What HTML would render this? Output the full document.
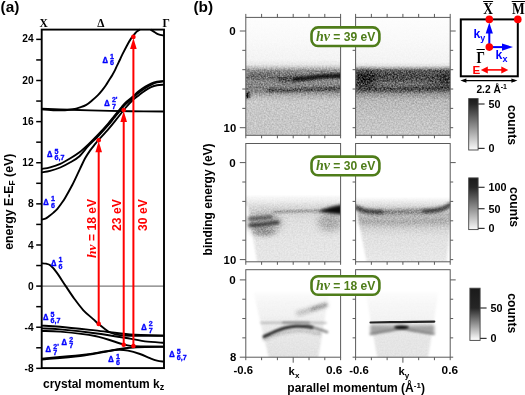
<!DOCTYPE html>
<html><head><meta charset="utf-8"><title>figure</title>
<style>html,body{margin:0;padding:0;background:#fff;overflow:hidden}svg{display:block;will-change:transform}</style>
</head><body>
<svg width="525" height="395" viewBox="0 0 525 395">
<rect width="525" height="395" fill="#fff"/>
<filter id="b05" filterUnits="userSpaceOnUse" x="230" y="0" width="240" height="380" color-interpolation-filters="sRGB"><feGaussianBlur stdDeviation="0.6"/></filter>
<filter id="b1" filterUnits="userSpaceOnUse" x="230" y="0" width="240" height="380" color-interpolation-filters="sRGB"><feGaussianBlur stdDeviation="1.0"/></filter>
<filter id="b15" filterUnits="userSpaceOnUse" x="230" y="0" width="240" height="380" color-interpolation-filters="sRGB"><feGaussianBlur stdDeviation="1.5"/></filter>
<filter id="b2" filterUnits="userSpaceOnUse" x="230" y="0" width="240" height="380" color-interpolation-filters="sRGB"><feGaussianBlur stdDeviation="2.2"/></filter>
<filter id="b3" filterUnits="userSpaceOnUse" x="230" y="0" width="240" height="380" color-interpolation-filters="sRGB"><feGaussianBlur stdDeviation="3.5"/></filter>
<filter id="b5" filterUnits="userSpaceOnUse" x="230" y="0" width="240" height="380" color-interpolation-filters="sRGB"><feGaussianBlur stdDeviation="5"/></filter>
<filter id="nz1" filterUnits="userSpaceOnUse" x="230" y="0" width="240" height="380" color-interpolation-filters="sRGB"><feTurbulence type="fractalNoise" baseFrequency="0.62" numOctaves="2" seed="3" result="t"/><feColorMatrix in="t" type="matrix" values="1 0 0 0 0  1 0 0 0 0  1 0 0 0 0  0 0 0 0 1" result="n"/><feColorMatrix in="SourceGraphic" type="matrix" values="-1 0 0 0 1  0 -1 0 0 1  0 0 -1 0 1  0 0 0 0 1" result="d"/><feComposite in="d" in2="n" operator="arithmetic" k1="1.1" k2="0.45" k3="0" k4="0" result="m"/><feColorMatrix in="m" type="matrix" values="-1 0 0 0 1  0 -1 0 0 1  0 0 -1 0 1  0 0 0 0 1"/></filter>
<filter id="nz2" filterUnits="userSpaceOnUse" x="230" y="0" width="240" height="380" color-interpolation-filters="sRGB"><feTurbulence type="fractalNoise" baseFrequency="0.62" numOctaves="2" seed="7" result="t"/><feColorMatrix in="t" type="matrix" values="1 0 0 0 0  1 0 0 0 0  1 0 0 0 0  0 0 0 0 1" result="n"/><feColorMatrix in="SourceGraphic" type="matrix" values="-1 0 0 0 1  0 -1 0 0 1  0 0 -1 0 1  0 0 0 0 1" result="d"/><feComposite in="d" in2="n" operator="arithmetic" k1="1.1" k2="0.45" k3="0" k4="0" result="m"/><feColorMatrix in="m" type="matrix" values="-1 0 0 0 1  0 -1 0 0 1  0 0 -1 0 1  0 0 0 0 1"/></filter>
<filter id="nz3" filterUnits="userSpaceOnUse" x="230" y="0" width="240" height="380" color-interpolation-filters="sRGB"><feTurbulence type="fractalNoise" baseFrequency="0.62" numOctaves="2" seed="11" result="t"/><feColorMatrix in="t" type="matrix" values="1 0 0 0 0  1 0 0 0 0  1 0 0 0 0  0 0 0 0 1" result="n"/><feColorMatrix in="SourceGraphic" type="matrix" values="-1 0 0 0 1  0 -1 0 0 1  0 0 -1 0 1  0 0 0 0 1" result="d"/><feComposite in="d" in2="n" operator="arithmetic" k1="1" k2="0.5" k3="0" k4="0" result="m"/><feColorMatrix in="m" type="matrix" values="-1 0 0 0 1  0 -1 0 0 1  0 0 -1 0 1  0 0 0 0 1"/></filter>
<filter id="nz4" filterUnits="userSpaceOnUse" x="230" y="0" width="240" height="380" color-interpolation-filters="sRGB"><feTurbulence type="fractalNoise" baseFrequency="0.62" numOctaves="2" seed="5" result="t"/><feColorMatrix in="t" type="matrix" values="1 0 0 0 0  1 0 0 0 0  1 0 0 0 0  0 0 0 0 1" result="n"/><feColorMatrix in="SourceGraphic" type="matrix" values="-1 0 0 0 1  0 -1 0 0 1  0 0 -1 0 1  0 0 0 0 1" result="d"/><feComposite in="d" in2="n" operator="arithmetic" k1="0.6" k2="0.7" k3="0" k4="0" result="m"/><feColorMatrix in="m" type="matrix" values="-1 0 0 0 1  0 -1 0 0 1  0 0 -1 0 1  0 0 0 0 1"/></filter>
<clipPath id="clp00"><rect x="245.8" y="17.4" width="94.8" height="117.9"/></clipPath>
<clipPath id="clp01"><rect x="355.6" y="17.4" width="94.6" height="117.9"/></clipPath>
<clipPath id="clp10"><rect x="245.8" y="143.5" width="94.8" height="118.3"/></clipPath>
<clipPath id="clp11"><rect x="355.6" y="143.5" width="94.6" height="118.3"/></clipPath>
<clipPath id="clp20"><rect x="245.8" y="269.7" width="94.8" height="87.5"/></clipPath>
<clipPath id="clp21"><rect x="355.6" y="269.7" width="94.6" height="87.5"/></clipPath>
<g clip-path="url(#clp00)"><g filter="url(#nz1)">
<linearGradient id="g00" x1="0" y1="17.4" x2="0" y2="135.3" gradientUnits="userSpaceOnUse"><stop offset="0" stop-color="#fdfdfd"/><stop offset="0.19" stop-color="#f9f9f9"/><stop offset="0.36" stop-color="#f3f3f3"/><stop offset="0.4" stop-color="#e6e6e6"/><stop offset="0.43" stop-color="#bcbcbc"/><stop offset="0.45" stop-color="#8e8e8e"/><stop offset="0.48" stop-color="#808080"/><stop offset="0.55" stop-color="#8e8e8e"/><stop offset="0.6" stop-color="#7e7e7e"/><stop offset="0.63" stop-color="#8a8a8a"/><stop offset="0.67" stop-color="#b4b4b4"/><stop offset="0.71" stop-color="#c8c8c8"/><stop offset="1" stop-color="#c6c6c6"/></linearGradient>
<rect x="245" y="17" width="96" height="119" fill="url(#g00)"/>
<path d="M250,76.5C252.5,76.62 259.67,76.9 265,77.2C270.33,77.5 276.5,77.97 282,78.3C287.5,78.63 295.33,79.05 298,79.2" fill="none" stroke="#222" stroke-width="5" stroke-opacity="0.35" stroke-linecap="round" filter="url(#b2)"/>
<path d="M280,79.5C282.33,79.47 289.83,79.45 294,79.3C298.17,79.15 301.5,78.92 305,78.6C308.5,78.28 311.17,77.78 315,77.4C318.83,77.02 323.5,76.57 328,76.3C332.5,76.03 339.67,75.88 342,75.8" fill="none" stroke="#000" stroke-width="4.5" stroke-opacity="0.4" stroke-linecap="round" filter="url(#b15)"/>
<path d="M268,90.4C270.83,90.4 279.67,90.48 285,90.4C290.33,90.32 294.17,90.1 300,89.9C305.83,89.7 313,89.38 320,89.2C327,89.02 338.33,88.87 342,88.8" fill="none" stroke="#000" stroke-width="2.8" stroke-opacity="0.5" stroke-linecap="round" filter="url(#b1)"/>
<ellipse cx="247.5" cy="95" rx="2.2" ry="3.5" fill="#111" filter="url(#b1)"/>
</g>
<path d="M296,79C297.5,78.9 301.83,78.7 305,78.4C308.17,78.1 311.17,77.57 315,77.2C318.83,76.83 323.5,76.47 328,76.2C332.5,75.93 339.67,75.7 342,75.6" fill="none" stroke="#000" stroke-width="3.8" stroke-opacity="0.75" stroke-linecap="round" filter="url(#b1)"/>
</g>
<g clip-path="url(#clp01)"><g filter="url(#nz2)">
<linearGradient id="g01" x1="0" y1="17.4" x2="0" y2="135.3" gradientUnits="userSpaceOnUse"><stop offset="0" stop-color="#fdfdfd"/><stop offset="0.19" stop-color="#f9f9f9"/><stop offset="0.38" stop-color="#f3f3f3"/><stop offset="0.41" stop-color="#e2e2e2"/><stop offset="0.43" stop-color="#a8a8a8"/><stop offset="0.45" stop-color="#5e5e5e"/><stop offset="0.49" stop-color="#484848"/><stop offset="0.53" stop-color="#505050"/><stop offset="0.56" stop-color="#5c5c5c"/><stop offset="0.6" stop-color="#4e4e4e"/><stop offset="0.62" stop-color="#6a6a6a"/><stop offset="0.65" stop-color="#969696"/><stop offset="0.7" stop-color="#b8b8b8"/><stop offset="0.83" stop-color="#c2c2c2"/><stop offset="1" stop-color="#c8c8c8"/></linearGradient>
<rect x="355" y="17" width="96" height="119" fill="url(#g01)"/>
<ellipse cx="366" cy="79" rx="11" ry="7" fill="#000" fill-opacity="0.55" filter="url(#b3)"/>
<ellipse cx="446" cy="79" rx="6" ry="7" fill="#000" fill-opacity="0.4" filter="url(#b3)"/>
<path d="M375,84.5C379.17,84.5 391.67,84.58 400,84.5C408.33,84.42 420.83,84.08 425,84" fill="none" stroke="#fff" stroke-width="3" stroke-opacity="0.25" stroke-linecap="round" filter="url(#b2)"/>
<path d="M360,89.5C366.67,89.58 385.83,90.08 400,90C414.17,89.92 437.5,89.17 445,89" fill="none" stroke="#000" stroke-width="2.5" stroke-opacity="0.3" stroke-linecap="round" filter="url(#b15)"/>
</g></g>
<g clip-path="url(#clp10)"><g filter="url(#nz3)">
<rect x="245" y="143" width="96" height="120" fill="#fff"/>
<linearGradient id="g10" x1="0" y1="143.5" x2="0" y2="261.8" gradientUnits="userSpaceOnUse"><stop offset="0" stop-color="#fefefe"/><stop offset="0.44" stop-color="#fafafa"/><stop offset="0.49" stop-color="#ececec"/><stop offset="0.54" stop-color="#d6d6d6"/><stop offset="0.59" stop-color="#d4d4d4"/><stop offset="0.65" stop-color="#dedede"/><stop offset="0.82" stop-color="#e4e4e4"/><stop offset="1" stop-color="#e6e6e6"/></linearGradient>
<path d="M244,196 L342,196 L342,264 L334,264 L257.5,264 L247.5,205 L244,205 Z" fill="url(#g10)" filter="url(#b1)"/>
<ellipse cx="264" cy="223" rx="18" ry="10" fill="#777" fill-opacity="0.5" filter="url(#b3)"/>
<ellipse cx="264" cy="232" rx="12" ry="3.5" fill="#444" fill-opacity="0.4" filter="url(#b2)"/>
<path d="M274,211.8C278.33,211.7 291.33,211.4 300,211.2C308.67,211 321.67,210.7 326,210.6" fill="none" stroke="#444" stroke-width="2.2" stroke-opacity="0.5" stroke-linecap="round" filter="url(#b1)"/>
<ellipse cx="330" cy="222" rx="12" ry="9" fill="#777" fill-opacity="0.5" filter="url(#b3)"/>
</g>
<path d="M249.5,218.8C250.58,218.75 253.75,218.65 256,218.5C258.25,218.35 260.5,218.15 263,217.9C265.5,217.65 269.67,217.15 271,217" fill="none" stroke="#000" stroke-width="3.4" stroke-opacity="0.55" stroke-linecap="round" filter="url(#b15)"/>
<path d="M250,225.4C251.33,225.32 255.33,225.13 258,224.9C260.67,224.67 262.67,224.45 266,224C269.33,223.55 276,222.5 278,222.2" fill="none" stroke="#000" stroke-width="3.6" stroke-opacity="0.7" stroke-linecap="round" filter="url(#b15)"/>
<path d="M318,211.3 Q330,206.5 342,204.6 L342,214.6 Q330,213.5 318,211.3 Z" fill="#000" fill-opacity="0.95" filter="url(#b15)"/>
</g>
<g clip-path="url(#clp11)"><g filter="url(#nz3)">
<rect x="355" y="143" width="96" height="120" fill="#fff"/>
<linearGradient id="g11" x1="0" y1="143.5" x2="0" y2="261.8" gradientUnits="userSpaceOnUse"><stop offset="0" stop-color="#fefefe"/><stop offset="0.46" stop-color="#fafafa"/><stop offset="0.5" stop-color="#e8e8e8"/><stop offset="0.55" stop-color="#cccccc"/><stop offset="0.6" stop-color="#bababa"/><stop offset="0.65" stop-color="#bcbcbc"/><stop offset="0.7" stop-color="#cccccc"/><stop offset="0.78" stop-color="#e0e0e0"/><stop offset="1" stop-color="#e8e8e8"/></linearGradient>
<path d="M354,198 L452,198 L452,206 L446.5,264 L367,264 L356.5,210 L354,210 Z" fill="url(#g11)" filter="url(#b1)"/>
<path d="M356,207C357,207.47 359.83,209.07 362,209.8C364.17,210.53 366,211.03 369,211.4C372,211.77 376.17,211.9 380,212C383.83,212.1 388.33,212.03 392,212C395.67,211.97 398.33,211.9 402,211.8C405.67,211.7 410.17,211.53 414,211.4C417.83,211.27 421.67,211.13 425,211C428.33,210.87 431.17,210.97 434,210.6C436.83,210.23 439.83,209.48 442,208.8C444.17,208.12 445.5,207.3 447,206.5C448.5,205.7 450.33,204.42 451,204" fill="none" stroke="#333" stroke-width="4.5" stroke-opacity="0.45" stroke-linecap="round" filter="url(#b15)"/>
<path d="M360,221.5C366.67,221.67 385.67,222.58 400,222.5C414.33,222.42 438.33,221.25 446,221" fill="none" stroke="#777" stroke-width="4.5" stroke-opacity="0.35" stroke-linecap="round" filter="url(#b2)"/>
</g>
<path d="M357,208C358.17,208.43 361.67,210 364,210.6C366.33,211.2 368,211.35 371,211.6C374,211.85 380.17,212.02 382,212.1" fill="none" stroke="#000" stroke-width="3.4" stroke-opacity="0.6" stroke-linecap="round" filter="url(#b15)"/>
<path d="M424,211.2C425.33,211.13 429.33,211.1 432,210.8C434.67,210.5 437.67,210 440,209.4C442.33,208.8 444.33,207.93 446,207.2C447.67,206.47 449.33,205.37 450,205" fill="none" stroke="#000" stroke-width="3.4" stroke-opacity="0.6" stroke-linecap="round" filter="url(#b15)"/>
</g>
<g clip-path="url(#clp20)"><g filter="url(#nz4)">
<rect x="245" y="269" width="96" height="90" fill="#fff"/>
<linearGradient id="g20" x1="0" y1="269.7" x2="0" y2="357.2" gradientUnits="userSpaceOnUse"><stop offset="0" stop-color="#ffffff"/><stop offset="0.25" stop-color="#fdfdfd"/><stop offset="0.37" stop-color="#f6f6f6"/><stop offset="0.52" stop-color="#f1f1f1"/><stop offset="0.6" stop-color="#ececec"/><stop offset="0.8" stop-color="#e6e6e6"/><stop offset="1" stop-color="#e2e2e2"/></linearGradient>
<path d="M253.5,292 L329.3,292 L318,359 L269,359 Z" fill="url(#g20)" filter="url(#b1)"/>
<path d="M298,313.3C299.33,312.97 303.33,312.05 306,311.3C308.67,310.55 311.67,309.53 314,308.8C316.33,308.07 318,307.55 320,306.9C322,306.25 325,305.23 326,304.9" fill="none" stroke="#666" stroke-width="3.6" stroke-opacity="0.5" stroke-linecap="round" filter="url(#b2)"/>
<path d="M312,309C313.33,308.6 317.67,307.3 320,306.6C322.33,305.9 325,305.1 326,304.8" fill="none" stroke="#444" stroke-width="2.6" stroke-opacity="0.45" stroke-linecap="round" filter="url(#b15)"/>
<path d="M264,339.5C265.83,338.75 270.67,336.33 275,335C279.33,333.67 285,332.17 290,331.5C295,330.83 300,330.58 305,331C310,331.42 317.5,333.5 320,334" fill="none" stroke="#777" stroke-width="2.5" stroke-opacity="0.45" stroke-linecap="round" filter="url(#b15)"/>
</g>
<path d="M261,322.8C265.83,322.77 279.17,322.6 290,322.6C300.83,322.6 320,322.77 326,322.8" fill="none" stroke="#888" stroke-width="1.8" stroke-opacity="0.55" stroke-linecap="round" filter="url(#b1)"/>
<path d="M283,322.7C285.33,322.67 292.67,322.5 297,322.5C301.33,322.5 307,322.67 309,322.7" fill="none" stroke="#333" stroke-width="1.8" stroke-opacity="0.5" stroke-linecap="round" filter="url(#b1)"/>
<path d="M264,336.6C265,336.13 267.67,334.85 270,333.8C272.33,332.75 275.33,331.3 278,330.3C280.67,329.3 283,328.47 286,327.8C289,327.13 292.57,326.5 296,326.3C299.43,326.1 303.93,326.42 306.6,326.6C309.27,326.78 311.1,327.27 312,327.4" fill="none" stroke="#000" stroke-width="3" stroke-opacity="0.85" stroke-linecap="round" filter="url(#b1)"/>
<path d="M306.6,326.6C307.83,326.8 311.43,327.18 314,327.8C316.57,328.42 319.83,329.6 322,330.3C324.17,331 326.17,331.72 327,332" fill="none" stroke="#555" stroke-width="2.6" stroke-opacity="0.65" stroke-linecap="round" filter="url(#b1)"/>
</g>
<g clip-path="url(#clp21)"><g filter="url(#nz4)">
<rect x="355" y="269" width="96" height="90" fill="#fff"/>
<linearGradient id="g21" x1="0" y1="269.7" x2="0" y2="357.2" gradientUnits="userSpaceOnUse"><stop offset="0" stop-color="#ffffff"/><stop offset="0.25" stop-color="#fdfdfd"/><stop offset="0.4" stop-color="#f7f7f7"/><stop offset="0.59" stop-color="#f2f2f2"/><stop offset="0.62" stop-color="#e8e8e8"/><stop offset="0.76" stop-color="#e6e6e6"/><stop offset="1" stop-color="#e4e4e4"/></linearGradient>
<path d="M365.5,292 L438.5,292 L427.8,359 L377.5,359 Z" fill="url(#g21)" filter="url(#b1)"/>
</g>
<path d="M370,325.2 L401.5,325.8 L434.5,325.2 L434.5,334.5 L401.5,329.3 L370,335 Z" fill="#777" fill-opacity="0.6" filter="url(#b15)"/>
<path d="M370.5,334C373.08,333.55 380.83,332.13 386,331.3C391.17,330.47 396.33,329 401.5,329C406.67,329 411.58,330.47 417,331.3C422.42,332.13 431.17,333.55 434,334" fill="none" stroke="#333" stroke-width="1.6" stroke-opacity="0.5" stroke-linecap="round" filter="url(#b1)"/>
<path d="M370.5,322.5C375.42,322.43 389.37,322.25 400,322.1C410.63,321.95 428.58,321.68 434.3,321.6" fill="none" stroke="#000" stroke-width="2.2" stroke-opacity="0.85" stroke-linecap="round" filter="url(#b05)"/>
<ellipse cx="401.5" cy="327.2" rx="7.5" ry="1.8" fill="#000" fill-opacity="0.95" filter="url(#b1)"/>
</g>
<rect x="245.8" y="17.4" width="94.8" height="117.9" fill="none" stroke="#5a5a5a" stroke-width="1"/>
<line x1="245.8" y1="17.4" x2="245.8" y2="13.9" stroke="#5a5a5a" stroke-width="1"/>
<line x1="245.8" y1="135.3" x2="245.8" y2="138.3" stroke="#5a5a5a" stroke-width="1"/>
<line x1="261.6" y1="17.4" x2="261.6" y2="13.9" stroke="#5a5a5a" stroke-width="1"/>
<line x1="261.6" y1="135.3" x2="261.6" y2="138.3" stroke="#5a5a5a" stroke-width="1"/>
<line x1="277.4" y1="17.4" x2="277.4" y2="13.9" stroke="#5a5a5a" stroke-width="1"/>
<line x1="277.4" y1="135.3" x2="277.4" y2="138.3" stroke="#5a5a5a" stroke-width="1"/>
<line x1="293.2" y1="17.4" x2="293.2" y2="13.9" stroke="#5a5a5a" stroke-width="1"/>
<line x1="293.2" y1="135.3" x2="293.2" y2="138.3" stroke="#5a5a5a" stroke-width="1"/>
<line x1="309" y1="17.4" x2="309" y2="13.9" stroke="#5a5a5a" stroke-width="1"/>
<line x1="309" y1="135.3" x2="309" y2="138.3" stroke="#5a5a5a" stroke-width="1"/>
<line x1="324.8" y1="17.4" x2="324.8" y2="13.9" stroke="#5a5a5a" stroke-width="1"/>
<line x1="324.8" y1="135.3" x2="324.8" y2="138.3" stroke="#5a5a5a" stroke-width="1"/>
<line x1="340.6" y1="17.4" x2="340.6" y2="13.9" stroke="#5a5a5a" stroke-width="1"/>
<line x1="340.6" y1="135.3" x2="340.6" y2="138.3" stroke="#5a5a5a" stroke-width="1"/>
<line x1="239.8" y1="31" x2="245.8" y2="31" stroke="#5a5a5a" stroke-width="1"/>
<line x1="242.3" y1="50.34" x2="245.8" y2="50.34" stroke="#5a5a5a" stroke-width="1"/>
<line x1="242.3" y1="69.68" x2="245.8" y2="69.68" stroke="#5a5a5a" stroke-width="1"/>
<line x1="242.3" y1="89.02" x2="245.8" y2="89.02" stroke="#5a5a5a" stroke-width="1"/>
<line x1="242.3" y1="108.36" x2="245.8" y2="108.36" stroke="#5a5a5a" stroke-width="1"/>
<line x1="239.8" y1="127.7" x2="245.8" y2="127.7" stroke="#5a5a5a" stroke-width="1"/>
<rect x="355.6" y="17.4" width="94.6" height="117.9" fill="none" stroke="#5a5a5a" stroke-width="1"/>
<line x1="355.6" y1="17.4" x2="355.6" y2="13.9" stroke="#5a5a5a" stroke-width="1"/>
<line x1="355.6" y1="135.3" x2="355.6" y2="138.3" stroke="#5a5a5a" stroke-width="1"/>
<line x1="371.37" y1="17.4" x2="371.37" y2="13.9" stroke="#5a5a5a" stroke-width="1"/>
<line x1="371.37" y1="135.3" x2="371.37" y2="138.3" stroke="#5a5a5a" stroke-width="1"/>
<line x1="387.13" y1="17.4" x2="387.13" y2="13.9" stroke="#5a5a5a" stroke-width="1"/>
<line x1="387.13" y1="135.3" x2="387.13" y2="138.3" stroke="#5a5a5a" stroke-width="1"/>
<line x1="402.9" y1="17.4" x2="402.9" y2="13.9" stroke="#5a5a5a" stroke-width="1"/>
<line x1="402.9" y1="135.3" x2="402.9" y2="138.3" stroke="#5a5a5a" stroke-width="1"/>
<line x1="418.67" y1="17.4" x2="418.67" y2="13.9" stroke="#5a5a5a" stroke-width="1"/>
<line x1="418.67" y1="135.3" x2="418.67" y2="138.3" stroke="#5a5a5a" stroke-width="1"/>
<line x1="434.43" y1="17.4" x2="434.43" y2="13.9" stroke="#5a5a5a" stroke-width="1"/>
<line x1="434.43" y1="135.3" x2="434.43" y2="138.3" stroke="#5a5a5a" stroke-width="1"/>
<line x1="450.2" y1="17.4" x2="450.2" y2="13.9" stroke="#5a5a5a" stroke-width="1"/>
<line x1="450.2" y1="135.3" x2="450.2" y2="138.3" stroke="#5a5a5a" stroke-width="1"/>
<line x1="352.6" y1="31" x2="355.6" y2="31" stroke="#5a5a5a" stroke-width="1"/>
<line x1="450.2" y1="31" x2="455.7" y2="31" stroke="#5a5a5a" stroke-width="1"/>
<line x1="352.6" y1="50.34" x2="355.6" y2="50.34" stroke="#5a5a5a" stroke-width="1"/>
<line x1="450.2" y1="50.34" x2="453.2" y2="50.34" stroke="#5a5a5a" stroke-width="1"/>
<line x1="352.6" y1="69.68" x2="355.6" y2="69.68" stroke="#5a5a5a" stroke-width="1"/>
<line x1="450.2" y1="69.68" x2="453.2" y2="69.68" stroke="#5a5a5a" stroke-width="1"/>
<line x1="352.6" y1="89.02" x2="355.6" y2="89.02" stroke="#5a5a5a" stroke-width="1"/>
<line x1="450.2" y1="89.02" x2="453.2" y2="89.02" stroke="#5a5a5a" stroke-width="1"/>
<line x1="352.6" y1="108.36" x2="355.6" y2="108.36" stroke="#5a5a5a" stroke-width="1"/>
<line x1="450.2" y1="108.36" x2="453.2" y2="108.36" stroke="#5a5a5a" stroke-width="1"/>
<line x1="352.6" y1="127.7" x2="355.6" y2="127.7" stroke="#5a5a5a" stroke-width="1"/>
<line x1="450.2" y1="127.7" x2="453.2" y2="127.7" stroke="#5a5a5a" stroke-width="1"/>
<text x="235.6" y="35" font-size="11.6" font-weight="bold" font-family='"Liberation Sans", sans-serif' fill="#000" text-anchor="end" >0</text>
<text x="236.2" y="131.7" font-size="11.3" font-weight="bold" font-family='"Liberation Sans", sans-serif' fill="#000" text-anchor="end" >10</text>
<rect x="245.8" y="143.5" width="94.8" height="118.3" fill="none" stroke="#5a5a5a" stroke-width="1"/>
<line x1="245.8" y1="261.8" x2="245.8" y2="264.8" stroke="#5a5a5a" stroke-width="1"/>
<line x1="261.6" y1="261.8" x2="261.6" y2="264.8" stroke="#5a5a5a" stroke-width="1"/>
<line x1="277.4" y1="261.8" x2="277.4" y2="264.8" stroke="#5a5a5a" stroke-width="1"/>
<line x1="293.2" y1="261.8" x2="293.2" y2="264.8" stroke="#5a5a5a" stroke-width="1"/>
<line x1="309" y1="261.8" x2="309" y2="264.8" stroke="#5a5a5a" stroke-width="1"/>
<line x1="324.8" y1="261.8" x2="324.8" y2="264.8" stroke="#5a5a5a" stroke-width="1"/>
<line x1="340.6" y1="261.8" x2="340.6" y2="264.8" stroke="#5a5a5a" stroke-width="1"/>
<line x1="239.8" y1="162.6" x2="245.8" y2="162.6" stroke="#5a5a5a" stroke-width="1"/>
<line x1="242.3" y1="182" x2="245.8" y2="182" stroke="#5a5a5a" stroke-width="1"/>
<line x1="242.3" y1="201.4" x2="245.8" y2="201.4" stroke="#5a5a5a" stroke-width="1"/>
<line x1="242.3" y1="220.8" x2="245.8" y2="220.8" stroke="#5a5a5a" stroke-width="1"/>
<line x1="242.3" y1="240.2" x2="245.8" y2="240.2" stroke="#5a5a5a" stroke-width="1"/>
<line x1="239.8" y1="259.6" x2="245.8" y2="259.6" stroke="#5a5a5a" stroke-width="1"/>
<rect x="355.6" y="143.5" width="94.6" height="118.3" fill="none" stroke="#5a5a5a" stroke-width="1"/>
<line x1="355.6" y1="261.8" x2="355.6" y2="264.8" stroke="#5a5a5a" stroke-width="1"/>
<line x1="371.37" y1="261.8" x2="371.37" y2="264.8" stroke="#5a5a5a" stroke-width="1"/>
<line x1="387.13" y1="261.8" x2="387.13" y2="264.8" stroke="#5a5a5a" stroke-width="1"/>
<line x1="402.9" y1="261.8" x2="402.9" y2="264.8" stroke="#5a5a5a" stroke-width="1"/>
<line x1="418.67" y1="261.8" x2="418.67" y2="264.8" stroke="#5a5a5a" stroke-width="1"/>
<line x1="434.43" y1="261.8" x2="434.43" y2="264.8" stroke="#5a5a5a" stroke-width="1"/>
<line x1="450.2" y1="261.8" x2="450.2" y2="264.8" stroke="#5a5a5a" stroke-width="1"/>
<line x1="352.6" y1="162.6" x2="355.6" y2="162.6" stroke="#5a5a5a" stroke-width="1"/>
<line x1="450.2" y1="162.6" x2="455.7" y2="162.6" stroke="#5a5a5a" stroke-width="1"/>
<line x1="352.6" y1="182" x2="355.6" y2="182" stroke="#5a5a5a" stroke-width="1"/>
<line x1="450.2" y1="182" x2="453.2" y2="182" stroke="#5a5a5a" stroke-width="1"/>
<line x1="352.6" y1="201.4" x2="355.6" y2="201.4" stroke="#5a5a5a" stroke-width="1"/>
<line x1="450.2" y1="201.4" x2="453.2" y2="201.4" stroke="#5a5a5a" stroke-width="1"/>
<line x1="352.6" y1="220.8" x2="355.6" y2="220.8" stroke="#5a5a5a" stroke-width="1"/>
<line x1="450.2" y1="220.8" x2="453.2" y2="220.8" stroke="#5a5a5a" stroke-width="1"/>
<line x1="352.6" y1="240.2" x2="355.6" y2="240.2" stroke="#5a5a5a" stroke-width="1"/>
<line x1="450.2" y1="240.2" x2="453.2" y2="240.2" stroke="#5a5a5a" stroke-width="1"/>
<line x1="352.6" y1="259.6" x2="355.6" y2="259.6" stroke="#5a5a5a" stroke-width="1"/>
<line x1="450.2" y1="259.6" x2="453.2" y2="259.6" stroke="#5a5a5a" stroke-width="1"/>
<text x="235.6" y="166.6" font-size="11.6" font-weight="bold" font-family='"Liberation Sans", sans-serif' fill="#000" text-anchor="end" >0</text>
<text x="236.2" y="263.6" font-size="11.3" font-weight="bold" font-family='"Liberation Sans", sans-serif' fill="#000" text-anchor="end" >10</text>
<rect x="245.8" y="269.7" width="94.8" height="87.5" fill="none" stroke="#5a5a5a" stroke-width="1"/>
<line x1="245.8" y1="357.2" x2="245.8" y2="360.2" stroke="#5a5a5a" stroke-width="1"/>
<line x1="261.6" y1="357.2" x2="261.6" y2="360.2" stroke="#5a5a5a" stroke-width="1"/>
<line x1="277.4" y1="357.2" x2="277.4" y2="360.2" stroke="#5a5a5a" stroke-width="1"/>
<line x1="293.2" y1="357.2" x2="293.2" y2="362.7" stroke="#5a5a5a" stroke-width="1"/>
<line x1="309" y1="357.2" x2="309" y2="360.2" stroke="#5a5a5a" stroke-width="1"/>
<line x1="324.8" y1="357.2" x2="324.8" y2="360.2" stroke="#5a5a5a" stroke-width="1"/>
<line x1="340.6" y1="357.2" x2="340.6" y2="360.2" stroke="#5a5a5a" stroke-width="1"/>
<line x1="239.8" y1="279.9" x2="245.8" y2="279.9" stroke="#5a5a5a" stroke-width="1"/>
<line x1="242.3" y1="299.22" x2="245.8" y2="299.22" stroke="#5a5a5a" stroke-width="1"/>
<line x1="242.3" y1="318.54" x2="245.8" y2="318.54" stroke="#5a5a5a" stroke-width="1"/>
<line x1="242.3" y1="337.86" x2="245.8" y2="337.86" stroke="#5a5a5a" stroke-width="1"/>
<line x1="239.8" y1="357.18" x2="245.8" y2="357.18" stroke="#5a5a5a" stroke-width="1"/>
<rect x="355.6" y="269.7" width="94.6" height="87.5" fill="none" stroke="#5a5a5a" stroke-width="1"/>
<line x1="355.6" y1="357.2" x2="355.6" y2="360.2" stroke="#5a5a5a" stroke-width="1"/>
<line x1="371.37" y1="357.2" x2="371.37" y2="360.2" stroke="#5a5a5a" stroke-width="1"/>
<line x1="387.13" y1="357.2" x2="387.13" y2="360.2" stroke="#5a5a5a" stroke-width="1"/>
<line x1="402.9" y1="357.2" x2="402.9" y2="362.7" stroke="#5a5a5a" stroke-width="1"/>
<line x1="418.67" y1="357.2" x2="418.67" y2="360.2" stroke="#5a5a5a" stroke-width="1"/>
<line x1="434.43" y1="357.2" x2="434.43" y2="360.2" stroke="#5a5a5a" stroke-width="1"/>
<line x1="450.2" y1="357.2" x2="450.2" y2="360.2" stroke="#5a5a5a" stroke-width="1"/>
<line x1="352.6" y1="279.9" x2="355.6" y2="279.9" stroke="#5a5a5a" stroke-width="1"/>
<line x1="450.2" y1="279.9" x2="455.7" y2="279.9" stroke="#5a5a5a" stroke-width="1"/>
<line x1="352.6" y1="299.22" x2="355.6" y2="299.22" stroke="#5a5a5a" stroke-width="1"/>
<line x1="450.2" y1="299.22" x2="453.2" y2="299.22" stroke="#5a5a5a" stroke-width="1"/>
<line x1="352.6" y1="318.54" x2="355.6" y2="318.54" stroke="#5a5a5a" stroke-width="1"/>
<line x1="450.2" y1="318.54" x2="453.2" y2="318.54" stroke="#5a5a5a" stroke-width="1"/>
<line x1="352.6" y1="337.86" x2="355.6" y2="337.86" stroke="#5a5a5a" stroke-width="1"/>
<line x1="450.2" y1="337.86" x2="453.2" y2="337.86" stroke="#5a5a5a" stroke-width="1"/>
<line x1="352.6" y1="357.18" x2="355.6" y2="357.18" stroke="#5a5a5a" stroke-width="1"/>
<line x1="450.2" y1="357.18" x2="453.2" y2="357.18" stroke="#5a5a5a" stroke-width="1"/>
<text x="235.6" y="283.9" font-size="11.6" font-weight="bold" font-family='"Liberation Sans", sans-serif' fill="#000" text-anchor="end" >0</text>
<text x="236.2" y="361.18" font-size="11.3" font-weight="bold" font-family='"Liberation Sans", sans-serif' fill="#000" text-anchor="end" >8</text>
<text x="243.2" y="374.4" font-size="11.3" font-weight="bold" font-family='"Liberation Sans", sans-serif' fill="#000" text-anchor="middle" >-0.6</text>
<text x="334.1" y="374.4" font-size="11.8" font-weight="bold" font-family='"Liberation Sans", sans-serif' fill="#000" text-anchor="middle" >0.6</text>
<text x="359" y="374.4" font-size="11.3" font-weight="bold" font-family='"Liberation Sans", sans-serif' fill="#000" text-anchor="middle" >-0.6</text>
<text x="449.8" y="374.4" font-size="11.8" font-weight="bold" font-family='"Liberation Sans", sans-serif' fill="#000" text-anchor="middle" >0.6</text>
<text x="288.6" y="374.8" font-size="11.3" font-weight="bold" font-family='"Liberation Sans", sans-serif'>k<tspan font-size="8" dy="2.8">x</tspan></text>
<text x="398.4" y="374.8" font-size="11.3" font-weight="bold" font-family='"Liberation Sans", sans-serif'>k<tspan font-size="8" dy="2.8">y</tspan></text>
<text x="287.3" y="392.3" font-size="12.05" font-weight="bold" font-family='"Liberation Sans", sans-serif'>parallel momentum (&#197;<tspan font-size="8" dy="-4.5">-1</tspan><tspan dy="4.5">)</tspan></text>
<text transform="translate(212,199.4) rotate(-90)" text-anchor="middle" font-size="12" font-weight="bold" font-family='"Liberation Sans", sans-serif'>binding energy (eV)</text>
<text x="193.4" y="12.3" font-size="15.4" font-weight="bold" font-family='"Liberation Sans", sans-serif' fill="#000" text-anchor="start" >(b)</text>
<rect x="311.5" y="27.4" width="67.9" height="18.6" rx="6.5" ry="6.5" fill="#fff" stroke="#4f7d1a" stroke-width="2.6"/>
<text x="316" y="41" font-size="12.1" font-weight="bold" font-family='"Liberation Sans", sans-serif' fill="#4f7d1a"><tspan font-family='"Liberation Serif", serif' font-style="italic" font-size="14">h&#957;</tspan> = 39 eV</text>
<rect x="311.5" y="156.6" width="67.9" height="18.6" rx="6.5" ry="6.5" fill="#fff" stroke="#4f7d1a" stroke-width="2.6"/>
<text x="316" y="170.2" font-size="12.1" font-weight="bold" font-family='"Liberation Sans", sans-serif' fill="#4f7d1a"><tspan font-family='"Liberation Serif", serif' font-style="italic" font-size="14">h&#957;</tspan> = 30 eV</text>
<rect x="311.5" y="276.2" width="67.9" height="18.6" rx="6.5" ry="6.5" fill="#fff" stroke="#4f7d1a" stroke-width="2.6"/>
<text x="316" y="289.8" font-size="12.1" font-weight="bold" font-family='"Liberation Sans", sans-serif' fill="#4f7d1a"><tspan font-family='"Liberation Serif", serif' font-style="italic" font-size="14">h&#957;</tspan> = 18 eV</text>
<linearGradient id="cb0" x1="0" y1="0" x2="0" y2="1"><stop offset="0" stop-color="#1a1a1a"/><stop offset="0.11" stop-color="#262626"/><stop offset="0.97" stop-color="#f4f4f4"/><stop offset="1" stop-color="#f8f8f8"/></linearGradient>
<rect x="468.7" y="98.6" width="9.4" height="51.4" fill="url(#cb0)" stroke="#444" stroke-width="0.9"/>
<line x1="478.1" y1="104" x2="484.6" y2="104" stroke="#333" stroke-width="1.2"/>
<text x="488.6" y="107.8" font-size="10.8" font-weight="bold" font-family='"Liberation Sans", sans-serif' fill="#000" text-anchor="start" >50</text>
<line x1="478.1" y1="148.4" x2="484.6" y2="148.4" stroke="#333" stroke-width="1.2"/>
<text x="488.6" y="152.2" font-size="10.8" font-weight="bold" font-family='"Liberation Sans", sans-serif' fill="#000" text-anchor="start" >0</text>
<text transform="translate(507.9,125) rotate(90)" text-anchor="middle" font-size="12.2" font-weight="bold" font-family='"Liberation Sans", sans-serif'>counts</text>
<linearGradient id="cb1" x1="0" y1="0" x2="0" y2="1"><stop offset="0" stop-color="#1a1a1a"/><stop offset="0.18" stop-color="#262626"/><stop offset="0.98" stop-color="#f4f4f4"/><stop offset="1" stop-color="#f8f8f8"/></linearGradient>
<rect x="468.7" y="177.9" width="9.4" height="51.7" fill="url(#cb1)" stroke="#444" stroke-width="0.9"/>
<line x1="478.1" y1="187.3" x2="484.6" y2="187.3" stroke="#333" stroke-width="1.2"/>
<text x="488.6" y="191.1" font-size="10.8" font-weight="bold" font-family='"Liberation Sans", sans-serif' fill="#000" text-anchor="start" >100</text>
<line x1="478.1" y1="208.7" x2="484.6" y2="208.7" stroke="#333" stroke-width="1.2"/>
<text x="488.6" y="212.5" font-size="10.8" font-weight="bold" font-family='"Liberation Sans", sans-serif' fill="#000" text-anchor="start" >50</text>
<line x1="478.1" y1="228.4" x2="484.6" y2="228.4" stroke="#333" stroke-width="1.2"/>
<text x="488.6" y="232.2" font-size="10.8" font-weight="bold" font-family='"Liberation Sans", sans-serif' fill="#000" text-anchor="start" >0</text>
<text transform="translate(509.5,207) rotate(90)" text-anchor="middle" font-size="12.2" font-weight="bold" font-family='"Liberation Sans", sans-serif'>counts</text>
<linearGradient id="cb2" x1="0" y1="0" x2="0" y2="1"><stop offset="0" stop-color="#1a1a1a"/><stop offset="0.38" stop-color="#262626"/><stop offset="0.96" stop-color="#f4f4f4"/><stop offset="1" stop-color="#f8f8f8"/></linearGradient>
<rect x="469.9" y="288.2" width="10.2" height="52.2" fill="url(#cb2)" stroke="#444" stroke-width="0.9"/>
<line x1="480.1" y1="308" x2="486.6" y2="308" stroke="#333" stroke-width="1.2"/>
<text x="490.6" y="311.8" font-size="10.8" font-weight="bold" font-family='"Liberation Sans", sans-serif' fill="#000" text-anchor="start" >50</text>
<line x1="480.1" y1="338.4" x2="486.6" y2="338.4" stroke="#333" stroke-width="1.2"/>
<text x="490.6" y="342.2" font-size="10.8" font-weight="bold" font-family='"Liberation Sans", sans-serif' fill="#000" text-anchor="start" >0</text>
<text transform="translate(507.9,313.3) rotate(90)" text-anchor="middle" font-size="12.2" font-weight="bold" font-family='"Liberation Sans", sans-serif'>counts</text>
<rect x="460.8" y="19.4" width="57" height="56.9" fill="none" stroke="#000" stroke-width="2"/>
<line x1="489.3" y1="47.1" x2="489.3" y2="32" stroke="#0000ff" stroke-width="2"/>
<path d="M489.3,22.6 L485.7,33.6 L492.9,33.6 Z" fill="#0000ff"/>
<line x1="489.3" y1="47.1" x2="503" y2="47.1" stroke="#0000ff" stroke-width="2"/>
<path d="M513,47.1 L502,43.4 L502,50.8 Z" fill="#0000ff"/>
<circle cx="489.3" cy="19.4" r="3.8" fill="#ff0000"/>
<circle cx="517.8" cy="19.4" r="3.8" fill="#ff0000"/>
<circle cx="489.3" cy="47.1" r="3.8" fill="#ff0000"/>
<line x1="485" y1="69.9" x2="504" y2="69.9" stroke="#ff0000" stroke-width="1.6"/>
<path d="M480.8,69.9 L487.8,66.4 L487.8,73.4 Z M508.3,69.9 L501.3,66.4 L501.3,73.4 Z" fill="#ff0000"/>
<text x="472.4" y="74" font-size="11.6" font-weight="bold" font-family='"Liberation Sans", sans-serif' fill="#ff0000" text-anchor="start" >E</text>
<text x="473.4" y="37.6" font-size="12.3" font-weight="bold" font-family='"Liberation Sans", sans-serif' fill="#0000ff">k<tspan font-size="9" dy="3">y</tspan></text>
<text x="495.6" y="59.2" font-size="12.3" font-weight="bold" font-family='"Liberation Sans", sans-serif' fill="#0000ff">k<tspan font-size="9" dy="3">x</tspan></text>
<g transform="translate(488.2,13.6) scale(1,1.2)"><text x="0" y="0" font-size="13.5" font-weight="bold" font-family='"Liberation Serif", serif' fill="#000" text-anchor="middle" >X</text></g>
<line x1="483.1" y1="1.5" x2="493.1" y2="1.5" stroke="#000" stroke-width="1"/>
<g transform="translate(518.4,13.6) scale(1,1.2)"><text x="0" y="0" font-size="13.5" font-weight="bold" font-family='"Liberation Serif", serif' fill="#000" text-anchor="middle" >M</text></g>
<line x1="511.7" y1="1.5" x2="525" y2="1.5" stroke="#000" stroke-width="1"/>
<g transform="translate(480.6,62.5) scale(1,1.22)"><text x="0" y="0" font-size="13.2" font-weight="bold" font-family='"Liberation Serif", serif' fill="#000" text-anchor="middle" >&#915;</text></g>
<line x1="476.5" y1="49.5" x2="484.8" y2="49.5" stroke="#000" stroke-width="1"/>
<line x1="463" y1="80.6" x2="515" y2="80.6" stroke="#000" stroke-width="1.1"/>
<path d="M460.4,80.6 L466.4,78.4 L466.4,82.8 Z M517.4,80.6 L511.4,78.4 L511.4,82.8 Z" fill="#000"/>
<text x="476.4" y="92.6" font-size="10.2" font-weight="bold" font-family='"Liberation Sans", sans-serif'>2.2 &#197;<tspan font-size="7" dy="-4">-1</tspan></text>
<line x1="41.7" y1="286.1" x2="164" y2="286.1" stroke="#7a7a7a" stroke-width="1.3"/>
<line x1="36.2" y1="368.34" x2="41.7" y2="368.34" stroke="#000" stroke-width="1.5"/>
<text x="33.6" y="371.94" font-size="10.2" font-weight="bold" font-family='"Liberation Sans", sans-serif' fill="#000" text-anchor="end" >-8</text>
<line x1="36.2" y1="347.78" x2="41.7" y2="347.78" stroke="#000" stroke-width="1.5"/>
<line x1="36.2" y1="327.22" x2="41.7" y2="327.22" stroke="#000" stroke-width="1.5"/>
<text x="33.6" y="330.82" font-size="10.2" font-weight="bold" font-family='"Liberation Sans", sans-serif' fill="#000" text-anchor="end" >-4</text>
<line x1="36.2" y1="306.66" x2="41.7" y2="306.66" stroke="#000" stroke-width="1.5"/>
<line x1="36.2" y1="286.1" x2="41.7" y2="286.1" stroke="#000" stroke-width="1.5"/>
<text x="33.6" y="289.7" font-size="10.2" font-weight="bold" font-family='"Liberation Sans", sans-serif' fill="#000" text-anchor="end" >0</text>
<line x1="36.2" y1="265.54" x2="41.7" y2="265.54" stroke="#000" stroke-width="1.5"/>
<line x1="36.2" y1="244.98" x2="41.7" y2="244.98" stroke="#000" stroke-width="1.5"/>
<text x="33.6" y="248.58" font-size="10.2" font-weight="bold" font-family='"Liberation Sans", sans-serif' fill="#000" text-anchor="end" >4</text>
<line x1="36.2" y1="224.42" x2="41.7" y2="224.42" stroke="#000" stroke-width="1.5"/>
<line x1="36.2" y1="203.86" x2="41.7" y2="203.86" stroke="#000" stroke-width="1.5"/>
<text x="33.6" y="207.46" font-size="10.2" font-weight="bold" font-family='"Liberation Sans", sans-serif' fill="#000" text-anchor="end" >8</text>
<line x1="36.2" y1="183.3" x2="41.7" y2="183.3" stroke="#000" stroke-width="1.5"/>
<line x1="36.2" y1="162.74" x2="41.7" y2="162.74" stroke="#000" stroke-width="1.5"/>
<text x="33.6" y="166.34" font-size="10.2" font-weight="bold" font-family='"Liberation Sans", sans-serif' fill="#000" text-anchor="end" >12</text>
<line x1="36.2" y1="142.18" x2="41.7" y2="142.18" stroke="#000" stroke-width="1.5"/>
<line x1="36.2" y1="121.62" x2="41.7" y2="121.62" stroke="#000" stroke-width="1.5"/>
<text x="33.6" y="125.22" font-size="10.2" font-weight="bold" font-family='"Liberation Sans", sans-serif' fill="#000" text-anchor="end" >16</text>
<line x1="36.2" y1="101.06" x2="41.7" y2="101.06" stroke="#000" stroke-width="1.5"/>
<line x1="36.2" y1="80.5" x2="41.7" y2="80.5" stroke="#000" stroke-width="1.5"/>
<text x="33.6" y="84.1" font-size="10.2" font-weight="bold" font-family='"Liberation Sans", sans-serif' fill="#000" text-anchor="end" >20</text>
<line x1="36.2" y1="59.94" x2="41.7" y2="59.94" stroke="#000" stroke-width="1.5"/>
<line x1="36.2" y1="39.38" x2="41.7" y2="39.38" stroke="#000" stroke-width="1.5"/>
<text x="33.6" y="41.78" font-size="10.2" font-weight="bold" font-family='"Liberation Sans", sans-serif' fill="#000" text-anchor="end" >24</text>
<path d="M150.6,29.6C151.28,30.03 153.38,31.4 154.7,32.2C156.02,33 156.95,33.83 158.5,34.4C160.05,34.97 163.08,35.4 164,35.6" fill="none" stroke="#000" stroke-width="1.9"/>
<path d="M41.7,109.3C43.92,109.47 51.12,110.15 55,110.3C58.88,110.45 62,110.37 65,110.2C68,110.03 70.5,109.77 73,109.3C75.5,108.83 77.78,108.13 80,107.4C82.22,106.67 84.3,106.05 86.3,104.9C88.3,103.75 90.1,102.08 92,100.5C93.9,98.92 96.02,97.08 97.7,95.4C99.38,93.72 100.73,92.08 102.1,90.4C103.47,88.72 104.75,86.98 105.9,85.3C107.05,83.62 107.95,81.98 109,80.3C110.05,78.62 111.2,76.9 112.2,75.2C113.2,73.5 114.15,71.78 115,70.1C115.85,68.42 116.5,66.78 117.3,65.1C118.1,63.42 118.93,61.82 119.8,60C120.67,58.18 121.23,56.75 122.5,54.2C123.77,51.65 125.98,47.3 127.4,44.7C128.82,42.1 129.82,40.37 131,38.6C132.18,36.83 133.55,35.27 134.5,34.1C135.45,32.93 135.82,32.35 136.7,31.6C137.58,30.85 139.28,29.93 139.8,29.6" fill="none" stroke="#000" stroke-width="1.9"/>
<path d="M41.7,108.6C46.42,108.78 60.28,109.37 70,109.7C79.72,110.03 90,110.35 100,110.6C110,110.85 119.33,111.05 130,111.2C140.67,111.35 158.33,111.45 164,111.5" fill="none" stroke="#000" stroke-width="1.9"/>
<path d="M41.7,168.9C43.1,168.63 47,168.15 50.1,167.3C53.2,166.45 56.92,165.32 60.3,163.8C63.68,162.28 67.2,160.13 70.4,158.2C73.6,156.27 76.55,154.47 79.5,152.2C82.45,149.93 84.97,147.57 88.1,144.6C91.23,141.63 94.92,137.95 98.3,134.4C101.68,130.85 105.78,126.3 108.4,123.3C111.02,120.3 111.78,119.12 114,116.4C116.22,113.68 119.7,109.35 121.7,107C123.7,104.65 124.23,103.97 126,102.3C127.77,100.63 130.18,98.83 132.3,97C134.42,95.17 136.58,93 138.7,91.3C140.82,89.6 142.95,88.08 145,86.8C147.05,85.52 149,84.45 151,83.6C153,82.75 154.83,82.13 157,81.7C159.17,81.27 162.83,81.12 164,81" fill="none" stroke="#000" stroke-width="1.9"/>
<path d="M41.7,172.4C43.1,172.15 47,171.72 50.1,170.9C53.2,170.08 56.92,168.93 60.3,167.5C63.68,166.07 67.2,164.18 70.4,162.3C73.6,160.42 76.55,158.88 79.5,156.2C82.45,153.52 84.97,149.57 88.1,146.2C91.23,142.83 94.92,139.55 98.3,136C101.68,132.45 105.78,127.9 108.4,124.9C111.02,121.9 111.78,120.72 114,118C116.22,115.28 119.7,110.97 121.7,108.6C123.7,106.23 124.23,105.5 126,103.8C127.77,102.1 130.18,100.25 132.3,98.4C134.42,96.55 136.58,94.4 138.7,92.7C140.82,91 142.95,89.52 145,88.2C147.05,86.88 149,85.77 151,84.8C153,83.83 154.83,82.97 157,82.4C159.17,81.83 162.83,81.57 164,81.4" fill="none" stroke="#000" stroke-width="1.9"/>
<path d="M41.7,219.6C42.42,219.4 44.68,219.03 46,218.4C47.32,217.77 48.35,216.77 49.6,215.8C50.85,214.83 52.23,213.72 53.5,212.6C54.77,211.48 55.95,210.53 57.2,209.1C58.45,207.67 59.73,205.78 61,204C62.27,202.22 62.9,201.6 64.8,198.4C66.7,195.2 69.87,189.73 72.4,184.8C74.93,179.87 77.88,173.22 80,168.8C82.12,164.38 83.43,161.33 85.1,158.3C86.77,155.27 88.35,152.95 90,150.6C91.65,148.25 93.62,145.93 95,144.2C96.38,142.47 96.07,142.72 98.3,140.2C100.53,137.68 105.37,132.6 108.4,129.1C111.43,125.6 113.67,122.72 116.5,119.2C119.33,115.68 122.77,111.12 125.4,108C128.03,104.88 130.08,102.6 132.3,100.5C134.52,98.4 136.58,97.05 138.7,95.4C140.82,93.75 142.95,91.97 145,90.6C147.05,89.23 149,88.08 151,87.2C153,86.32 154.83,85.73 157,85.3C159.17,84.87 162.83,84.72 164,84.6" fill="none" stroke="#000" stroke-width="1.9"/>
<path d="M41.7,263.3C42.42,263.37 44.52,263.32 46,263.7C47.48,264.08 48.83,264.15 50.6,265.6C52.37,267.05 54.13,269.07 56.6,272.4C59.07,275.73 62.45,281.22 65.4,285.6C68.35,289.98 71.3,294.58 74.3,298.7C77.3,302.82 80.25,306.9 83.4,310.3C86.55,313.7 90.67,316.8 93.2,319.1C95.73,321.4 96.6,322.42 98.6,324.1C100.6,325.78 103.25,327.8 105.2,329.2C107.15,330.6 108.45,331.6 110.3,332.5C112.15,333.4 113.85,334.1 116.3,334.6C118.75,335.1 121.05,335.3 125,335.5C128.95,335.7 133.5,335.75 140,335.8C146.5,335.85 160,335.8 164,335.8" fill="none" stroke="#000" stroke-width="1.9"/>
<path d="M41.7,325.6C44.75,325.78 51.12,325.9 60,326.7C68.88,327.5 83.33,329.12 95,330.4C106.67,331.68 118.5,333.53 130,334.4C141.5,335.27 158.33,335.4 164,335.6" fill="none" stroke="#000" stroke-width="1.9"/>
<path d="M41.7,328.4C44.75,328.57 51.12,328.6 60,329.4C68.88,330.2 83.33,331.67 95,333.2C106.67,334.73 121.67,337.23 130,338.6C138.33,339.97 139.33,340.7 145,341.4C150.67,342.1 160.83,342.57 164,342.8" fill="none" stroke="#000" stroke-width="1.9"/>
<path d="M41.7,331C44.75,331.1 51.12,330.77 60,331.6C68.88,332.43 84.43,333.87 95,336C105.57,338.13 117.1,342.73 123.4,344.4C129.7,346.07 129.2,345.65 132.8,346C136.4,346.35 139.8,346.4 145,346.5C150.2,346.6 160.83,346.58 164,346.6" fill="none" stroke="#000" stroke-width="1.9"/>
<path d="M41.7,358.6C48.08,358.05 69.45,356.48 80,355.3C90.55,354.12 98.67,352.5 105,351.5C111.33,350.5 113.83,349.92 118,349.3C122.17,348.68 125.5,348.18 130,347.8C134.5,347.42 139.33,347.17 145,347C150.67,346.83 160.83,346.83 164,346.8" fill="none" stroke="#000" stroke-width="1.9"/>
<path d="M41.7,359.6C48.08,359 69.45,357.3 80,356C90.55,354.7 98.67,352.83 105,351.8C111.33,350.77 114.17,350 118,349.8C121.83,349.6 124.33,349.9 128,350.6C131.67,351.3 136.33,352.73 140,354C143.67,355.27 147.17,357.1 150,358.2C152.83,359.3 154.67,360.03 157,360.6C159.33,361.17 162.83,361.43 164,361.6" fill="none" stroke="#000" stroke-width="1.9"/>
<line x1="98.7" y1="323.9" x2="98.7" y2="150.3" stroke="#ff0000" stroke-width="2"/>
<path d="M98.7,141.3 L95.4,152.3 L102,152.3 Z" fill="#ff0000"/>
<circle cx="98.7" cy="323.9" r="2.3" fill="#ff0000"/>
<circle cx="98.7" cy="140.3" r="2.3" fill="#ff0000"/>
<line x1="123.7" y1="344.7" x2="123.7" y2="120" stroke="#ff0000" stroke-width="2"/>
<path d="M123.7,111 L120.4,122 L127,122 Z" fill="#ff0000"/>
<circle cx="123.7" cy="344.7" r="2.3" fill="#ff0000"/>
<circle cx="123.7" cy="110" r="2.3" fill="#ff0000"/>
<line x1="133.4" y1="346" x2="133.4" y2="46.9" stroke="#ff0000" stroke-width="2"/>
<path d="M133.4,37.9 L130.1,48.9 L136.7,48.9 Z" fill="#ff0000"/>
<circle cx="133.4" cy="346" r="2.3" fill="#ff0000"/>
<circle cx="133.4" cy="36.9" r="2.3" fill="#ff0000"/>
<rect x="41.7" y="29.6" width="122.3" height="338.5" fill="none" stroke="#000" stroke-width="1.9"/>
<text transform="translate(96.2,258) rotate(-90)" font-size="12.2" font-weight="bold" font-family='"Liberation Sans", sans-serif' fill="#ff0000"><tspan font-family='"Liberation Serif", serif' font-style="italic" font-size="13.5">h&#957;</tspan> = 18 eV</text>
<text transform="translate(120.5,231) rotate(-90)" font-size="12.2" font-weight="bold" font-family='"Liberation Sans", sans-serif' fill="#ff0000">23 eV</text>
<text transform="translate(146.9,231) rotate(-90)" font-size="12.2" font-weight="bold" font-family='"Liberation Sans", sans-serif' fill="#ff0000">30 eV</text>
<g transform="translate(102.4,62.5) scale(0.9,1)"><text x="0" y="0" font-size="8.4" font-weight="bold" font-family='"Liberation Sans", sans-serif' fill="#0000ff" text-anchor="start" stroke="#0000ff" stroke-width="0.45">&#916;</text></g>
<text x="110" y="59" font-size="7.1" font-weight="bold" font-family='"Liberation Sans", sans-serif' fill="#0000ff" text-anchor="start" stroke="#0000ff" stroke-width="0.3">1</text>
<text x="110" y="65.4" font-size="7.1" font-weight="bold" font-family='"Liberation Sans", sans-serif' fill="#0000ff" text-anchor="start" stroke="#0000ff" stroke-width="0.3">6</text>
<g transform="translate(104.3,105.9) scale(0.9,1)"><text x="0" y="0" font-size="8.4" font-weight="bold" font-family='"Liberation Sans", sans-serif' fill="#0000ff" text-anchor="start" stroke="#0000ff" stroke-width="0.45">&#916;</text></g>
<text x="111.9" y="102.4" font-size="7.1" font-weight="bold" font-family='"Liberation Sans", sans-serif' fill="#0000ff" text-anchor="start" stroke="#0000ff" stroke-width="0.3">2'</text>
<text x="111.9" y="108.8" font-size="7.1" font-weight="bold" font-family='"Liberation Sans", sans-serif' fill="#0000ff" text-anchor="start" stroke="#0000ff" stroke-width="0.3">7</text>
<g transform="translate(47,157.3) scale(0.9,1)"><text x="0" y="0" font-size="8.4" font-weight="bold" font-family='"Liberation Sans", sans-serif' fill="#0000ff" text-anchor="start" stroke="#0000ff" stroke-width="0.45">&#916;</text></g>
<text x="54.6" y="153.8" font-size="7.1" font-weight="bold" font-family='"Liberation Sans", sans-serif' fill="#0000ff" text-anchor="start" stroke="#0000ff" stroke-width="0.3">5</text>
<text x="54.6" y="160.2" font-size="7.1" font-weight="bold" font-family='"Liberation Sans", sans-serif' fill="#0000ff" text-anchor="start" stroke="#0000ff" stroke-width="0.3">6,7</text>
<g transform="translate(43.3,204.6) scale(0.9,1)"><text x="0" y="0" font-size="8.4" font-weight="bold" font-family='"Liberation Sans", sans-serif' fill="#0000ff" text-anchor="start" stroke="#0000ff" stroke-width="0.45">&#916;</text></g>
<text x="50.9" y="201.1" font-size="7.1" font-weight="bold" font-family='"Liberation Sans", sans-serif' fill="#0000ff" text-anchor="start" stroke="#0000ff" stroke-width="0.3">1</text>
<text x="50.9" y="207.5" font-size="7.1" font-weight="bold" font-family='"Liberation Sans", sans-serif' fill="#0000ff" text-anchor="start" stroke="#0000ff" stroke-width="0.3">6</text>
<g transform="translate(50.9,265.9) scale(0.9,1)"><text x="0" y="0" font-size="8.4" font-weight="bold" font-family='"Liberation Sans", sans-serif' fill="#0000ff" text-anchor="start" stroke="#0000ff" stroke-width="0.45">&#916;</text></g>
<text x="58.5" y="262.4" font-size="7.1" font-weight="bold" font-family='"Liberation Sans", sans-serif' fill="#0000ff" text-anchor="start" stroke="#0000ff" stroke-width="0.3">1</text>
<text x="58.5" y="268.8" font-size="7.1" font-weight="bold" font-family='"Liberation Sans", sans-serif' fill="#0000ff" text-anchor="start" stroke="#0000ff" stroke-width="0.3">6</text>
<g transform="translate(42.9,320.3) scale(0.9,1)"><text x="0" y="0" font-size="8.4" font-weight="bold" font-family='"Liberation Sans", sans-serif' fill="#0000ff" text-anchor="start" stroke="#0000ff" stroke-width="0.45">&#916;</text></g>
<text x="50.5" y="316.8" font-size="7.1" font-weight="bold" font-family='"Liberation Sans", sans-serif' fill="#0000ff" text-anchor="start" stroke="#0000ff" stroke-width="0.3">5</text>
<text x="50.5" y="323.2" font-size="7.1" font-weight="bold" font-family='"Liberation Sans", sans-serif' fill="#0000ff" text-anchor="start" stroke="#0000ff" stroke-width="0.3">6,7</text>
<g transform="translate(61.6,345.1) scale(0.9,1)"><text x="0" y="0" font-size="8.4" font-weight="bold" font-family='"Liberation Sans", sans-serif' fill="#0000ff" text-anchor="start" stroke="#0000ff" stroke-width="0.45">&#916;</text></g>
<text x="69.2" y="341.6" font-size="7.1" font-weight="bold" font-family='"Liberation Sans", sans-serif' fill="#0000ff" text-anchor="start" stroke="#0000ff" stroke-width="0.3">2</text>
<text x="69.2" y="348" font-size="7.1" font-weight="bold" font-family='"Liberation Sans", sans-serif' fill="#0000ff" text-anchor="start" stroke="#0000ff" stroke-width="0.3">7</text>
<g transform="translate(45.6,352.2) scale(0.9,1)"><text x="0" y="0" font-size="8.4" font-weight="bold" font-family='"Liberation Sans", sans-serif' fill="#0000ff" text-anchor="start" stroke="#0000ff" stroke-width="0.45">&#916;</text></g>
<text x="53.2" y="348.7" font-size="7.1" font-weight="bold" font-family='"Liberation Sans", sans-serif' fill="#0000ff" text-anchor="start" stroke="#0000ff" stroke-width="0.3">2'</text>
<text x="53.2" y="355.1" font-size="7.1" font-weight="bold" font-family='"Liberation Sans", sans-serif' fill="#0000ff" text-anchor="start" stroke="#0000ff" stroke-width="0.3">7</text>
<g transform="translate(141.2,329.7) scale(0.9,1)"><text x="0" y="0" font-size="8.4" font-weight="bold" font-family='"Liberation Sans", sans-serif' fill="#0000ff" text-anchor="start" stroke="#0000ff" stroke-width="0.45">&#916;</text></g>
<text x="148.8" y="326.2" font-size="7.1" font-weight="bold" font-family='"Liberation Sans", sans-serif' fill="#0000ff" text-anchor="start" stroke="#0000ff" stroke-width="0.3">2</text>
<text x="148.8" y="332.6" font-size="7.1" font-weight="bold" font-family='"Liberation Sans", sans-serif' fill="#0000ff" text-anchor="start" stroke="#0000ff" stroke-width="0.3">7</text>
<g transform="translate(108.3,362.4) scale(0.9,1)"><text x="0" y="0" font-size="8.4" font-weight="bold" font-family='"Liberation Sans", sans-serif' fill="#0000ff" text-anchor="start" stroke="#0000ff" stroke-width="0.45">&#916;</text></g>
<text x="115.9" y="358.9" font-size="7.1" font-weight="bold" font-family='"Liberation Sans", sans-serif' fill="#0000ff" text-anchor="start" stroke="#0000ff" stroke-width="0.3">1</text>
<text x="115.9" y="365.3" font-size="7.1" font-weight="bold" font-family='"Liberation Sans", sans-serif' fill="#0000ff" text-anchor="start" stroke="#0000ff" stroke-width="0.3">6</text>
<g transform="translate(169.2,357.1) scale(0.9,1)"><text x="0" y="0" font-size="8.4" font-weight="bold" font-family='"Liberation Sans", sans-serif' fill="#0000ff" text-anchor="start" stroke="#0000ff" stroke-width="0.45">&#916;</text></g>
<text x="176.8" y="353.6" font-size="7.1" font-weight="bold" font-family='"Liberation Sans", sans-serif' fill="#0000ff" text-anchor="start" stroke="#0000ff" stroke-width="0.3">5</text>
<text x="176.8" y="360" font-size="7.1" font-weight="bold" font-family='"Liberation Sans", sans-serif' fill="#0000ff" text-anchor="start" stroke="#0000ff" stroke-width="0.3">6,7</text>
<text x="43.6" y="26.6" font-size="11.5" font-weight="bold" font-family='"Liberation Serif", serif' fill="#000" text-anchor="middle" >X</text>
<text x="100.9" y="26.6" font-size="11.5" font-weight="bold" font-family='"Liberation Serif", serif' fill="#000" text-anchor="middle" >&#916;</text>
<text x="166.2" y="26.6" font-size="11.5" font-weight="bold" font-family='"Liberation Serif", serif' fill="#000" text-anchor="middle" >&#915;</text>
<text transform="translate(12.6,201.7) rotate(-90)" text-anchor="middle" font-size="12.3" font-weight="bold" font-family='"Liberation Sans", sans-serif'>energy E-E<tspan font-size="8.5" dy="2.5">F</tspan><tspan dy="-2.5"> (eV)</tspan></text>
<text x="43" y="387.5" font-size="12" font-weight="bold" font-family='"Liberation Sans", sans-serif'>crystal momentum k<tspan font-size="9" dy="2.5">z</tspan></text>
<text x="0.6" y="12.3" font-size="15.4" font-weight="bold" font-family='"Liberation Sans", sans-serif' fill="#000" text-anchor="start" >(a)</text>
</svg>
</body></html>
